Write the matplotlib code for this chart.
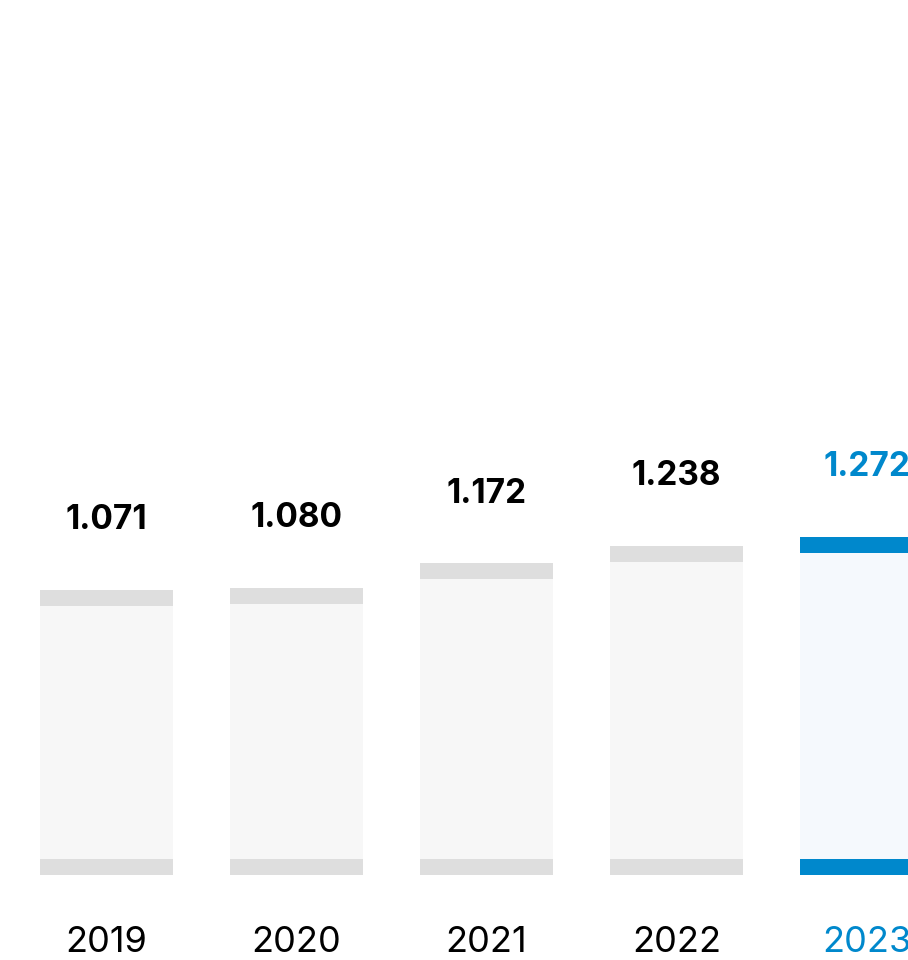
import matplotlib
matplotlib.use("Agg")
import matplotlib.pyplot as plt

years = ["2019", "2020", "2021", "2022", "2023"]
values = [1.071, 1.080, 1.172, 1.238, 1.272]
labels = ["1.071", "1.080", "1.172", "1.238", "1.272"]

gray_fill = "#f7f7f7"
gray_cap = "#dedede"
blue_fill = "#f5f9fd"
blue_cap = "#0088cc"

plt.rcParams['font.family'] = ['Inter', 'DejaVu Sans']

fig = plt.figure(figsize=(9.08, 9.6), dpi=100)
ax = fig.add_axes([0, 0, 1, 1])

width = 133 / 190
cap = 16 / 266
xs = list(range(len(years)))

for i, (x, v) in enumerate(zip(xs, values)):
    last = i == len(years) - 1
    fill = blue_fill if last else gray_fill
    edge = blue_cap if last else gray_cap
    txt = blue_cap if last else "black"
    ax.bar(x, v, width=width, color=fill, linewidth=0)
    ax.bar(x, cap, width=width, bottom=v - cap, color=edge, linewidth=0)
    ax.bar(x, cap, width=width, bottom=0, color=edge, linewidth=0)
    ax.text(x, v + 0.262, labels[i], ha='center', va='center',
            fontsize=24, fontweight='bold', color=txt)
    ax.text(x, -0.255, years[i], ha='center', va='center',
            fontsize=26, color=txt)

ax.set_xlim(-106.5 / 190, (908 - 106.5) / 190)
ax.set_ylim(-85 / 266, (960 - 85) / 266)
ax.axis('off')

fig.savefig("out.png", dpi=100)
